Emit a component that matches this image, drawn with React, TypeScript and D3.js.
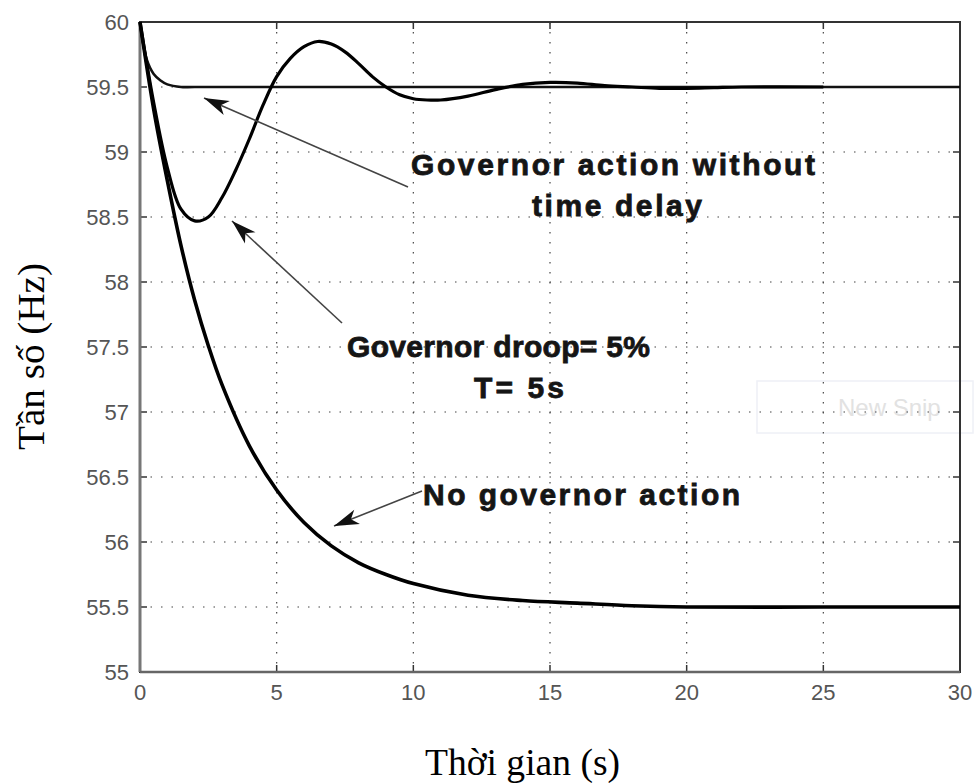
import React from "react";
import * as d3 from "d3";

// Frequency response after a load step, three governor cases
const tNoGov = [0, 0.5, 1, 1.5, 2, 2.5, 3, 4, 5, 6, 7, 8, 9, 10, 12, 14, 16, 18, 20, 25, 30];
const fNoGov = [60, 59.33, 58.78, 58.28, 57.86, 57.51, 57.21, 56.74, 56.4, 56.15, 55.97, 55.84, 55.75, 55.68, 55.59, 55.55, 55.53, 55.51, 55.5, 55.5, 55.5];

const tDroop = [0, 0.5, 1, 1.5, 2, 2.5, 3, 3.5, 4, 4.5, 5, 5.5, 6, 6.5, 7, 7.5, 8, 8.5, 9, 9.5, 10, 10.5, 11, 12, 13, 14, 15, 16, 17, 18, 19, 20, 21, 22, 25];
const fDroop = [60, 59.38, 58.88, 58.56, 58.47, 58.5, 58.65, 58.86, 59.1, 59.36, 59.58, 59.72, 59.81, 59.85, 59.83, 59.77, 59.68, 59.58, 59.5, 59.44, 59.41, 59.4, 59.4, 59.43, 59.48, 59.52, 59.535, 59.53, 59.51, 59.5, 59.49, 59.49, 59.495, 59.5, 59.5];

const tNoDelay = [0, 0.25, 0.5, 0.75, 1, 1.5, 2, 30];
const fNoDelay = [60, 59.71, 59.6, 59.55, 59.52, 59.5, 59.5, 59.5];

const xTicks = [0, 5, 10, 15, 20, 25, 30];
const yTicks = [55, 55.5, 56, 56.5, 57, 57.5, 58, 58.5, 59, 59.5, 60];

const W = 974;
const H = 783;
const plotL = 140;
const plotR = 960;
const plotT = 22;
const plotB = 672;

const x = d3.scaleLinear().domain([0, 30]).range([plotL, plotR]);
const y = d3.scaleLinear().domain([55, 60]).range([plotB, plotT]);

const line = d3
  .line<[number, number]>()
  .x((d) => x(d[0]))
  .y((d) => y(d[1]))
  .curve(d3.curveCatmullRom.alpha(0.5));

const zip = (a: number[], b: number[]) => a.map((v, i) => [v, b[i]] as [number, number]);

const tickFont = "'Liberation Sans', Arial, sans-serif";
const noteFont = "'Liberation Sans', Arial, sans-serif";
const serif = "'Liberation Serif', 'Times New Roman', serif";

type Arrow = { x1: number; y1: number; x2: number; y2: number };
const arrows: Arrow[] = [
  { x1: 408, y1: 187, x2: 204, y2: 98 },
  { x1: 342, y1: 323, x2: 232, y2: 221 },
  { x1: 422, y1: 491, x2: 334, y2: 526 },
];

function arrowHead(a: Arrow) {
  const ang = Math.atan2(a.y2 - a.y1, a.x2 - a.x1);
  const len = 26;
  const half = 0.3;
  const p1 = [a.x2 - len * Math.cos(ang - half), a.y2 - len * Math.sin(ang - half)];
  const p2 = [a.x2 - len * Math.cos(ang + half), a.y2 - len * Math.sin(ang + half)];
  const pm = [a.x2 - len * 0.7 * Math.cos(ang), a.y2 - len * 0.7 * Math.sin(ang)];
  return `M${a.x2},${a.y2}L${p1[0]},${p1[1]}L${pm[0]},${pm[1]}L${p2[0]},${p2[1]}Z`;
}

type Note = { text: string; x: number; y: number; w: number };
const notes: Note[] = [
  { text: "Governor action without", x: 411, y: 175, w: 404 },
  { text: "time delay", x: 532, y: 216, w: 170 },
  { text: "Governor droop= 5%", x: 347, y: 357, w: 303 },
  { text: "T= 5s", x: 474, y: 398, w: 90 },
  { text: "No governor action", x: 423, y: 505, w: 317 },
];

export default function App() {
  return (
    <div style={{ position: "fixed", left: 0, top: 0, width: W, height: H, overflow: "hidden", background: "#fff" }}>
      <svg width={W} height={H} viewBox={`0 0 ${W} ${H}`} style={{ display: "block" }}>
        <rect x={0} y={0} width={W} height={H} fill="#fff" />

        {/* faint overlay box */}
        <rect x={757} y={381} width={216} height={52} fill="none" stroke="#eef0f6" strokeWidth={1.5} />
        <text x={838} y={416} fontFamily={noteFont} fontSize={24} fill="#e2e2e2">
          New Snip
        </text>

        {/* grid */}
        {xTicks.slice(1, -1).map((t) => (
          <line key={"gx" + t} x1={x(t)} x2={x(t)} y1={plotT} y2={plotB} stroke="#444" strokeWidth={1.2} strokeDasharray="1.5,8.5" />
        ))}
        {yTicks.slice(1, -1).map((t) => (
          <line key={"gy" + t} x1={plotL} x2={plotR} y1={y(t)} y2={y(t)} stroke="#444" strokeWidth={1.2} strokeDasharray="1.5,9" />
        ))}

        {/* ticks */}
        {xTicks.map((t) => (
          <g key={"tx" + t}>
            <line x1={x(t)} x2={x(t)} y1={plotB} y2={plotB - 7} stroke="#333" strokeWidth={1.5} />
            <line x1={x(t)} x2={x(t)} y1={plotT} y2={plotT + 7} stroke="#333" strokeWidth={1.5} />
            <text x={x(t)} y={plotB + 28} textAnchor="middle" fontFamily={tickFont} fontSize={22} fill="#555">
              {t}
            </text>
          </g>
        ))}
        {yTicks.map((t) => (
          <g key={"ty" + t}>
            <line x1={plotL} x2={plotL + 7} y1={y(t)} y2={y(t)} stroke="#333" strokeWidth={1.5} />
            <line x1={plotR} x2={plotR - 7} y1={y(t)} y2={y(t)} stroke="#333" strokeWidth={1.5} />
            <text x={plotL - 11} y={y(t) + 8} textAnchor="end" fontFamily={tickFont} fontSize={22} fill="#555">
              {t}
            </text>
          </g>
        ))}

        {/* frame */}
        <rect x={plotL} y={plotT} width={plotR - plotL} height={plotB - plotT} fill="none" stroke="#333" strokeWidth={2} />
        <line x1={plotL} x2={plotL} y1={plotT} y2={plotB} stroke="#777" strokeWidth={3} />
        <line x1={plotL} x2={plotR} y1={plotB} y2={plotB} stroke="#666" strokeWidth={2.5} />

        {/* curves */}
        <path d={line(zip(tNoDelay, fNoDelay)) || ""} fill="none" stroke="#111" strokeWidth={2.6} />
        <path d={line(zip(tNoGov, fNoGov)) || ""} fill="none" stroke="#000" strokeWidth={3.6} />
        <path d={line(zip(tDroop, fDroop)) || ""} fill="none" stroke="#000" strokeWidth={3.2} />

        {/* annotation arrows */}
        {arrows.map((a, i) => (
          <g key={"ar" + i}>
            <line x1={a.x1} y1={a.y1} x2={a.x2} y2={a.y2} stroke="#444" strokeWidth={1.6} />
            <path d={arrowHead(a)} fill="#111" />
          </g>
        ))}

        {/* annotation texts */}
        <g fontFamily={noteFont} fontWeight="bold" fontSize={30} fill="#151515" stroke="#151515" strokeWidth={0.8}>
          {notes.map((n) => (
            <text key={n.text} x={n.x} y={n.y} textLength={n.w} lengthAdjust="spacing">
              {n.text}
            </text>
          ))}
        </g>

        {/* axis titles */}
        <text x={425} y={775} textLength={195} lengthAdjust="spacingAndGlyphs" fontFamily={serif} fontSize={38} fill="#000">
          Thời gian (s)
        </text>
        <text
          transform="translate(44,450) rotate(-90)"
          textLength={187}
          lengthAdjust="spacingAndGlyphs"
          fontFamily={serif}
          fontSize={38}
          fill="#000"
        >
          Tần số (Hz)
        </text>
      </svg>
    </div>
  );
}
